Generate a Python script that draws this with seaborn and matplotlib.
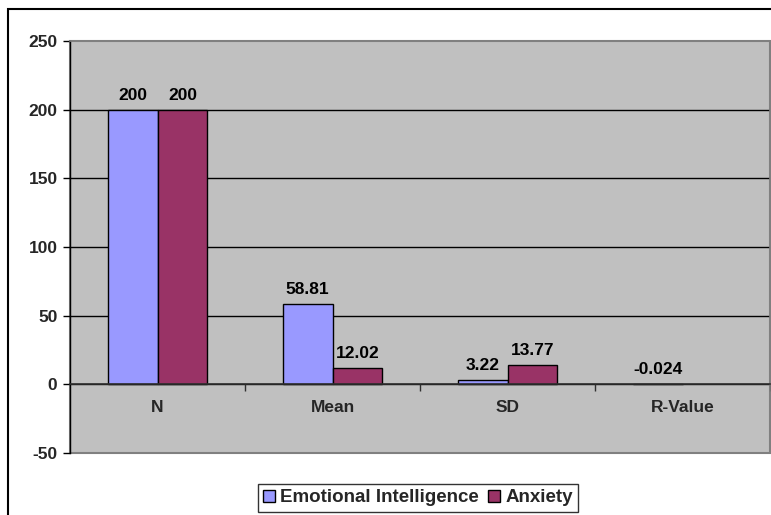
import matplotlib
matplotlib.use("Agg")
import matplotlib.pyplot as plt
import seaborn as sns
import pandas as pd
import numpy as np
from matplotlib.patches import Rectangle

categories = ["N", "Mean", "SD", "R-Value"]
emotional_intelligence = [200, 58.81, 3.22, -0.024]
anxiety = [200, 12.02, 13.77, np.nan]
series_names = ["Emotional Intelligence", "Anxiety"]
colors = ["#9999FF", "#993366"]
y_ticks = [-50, 0, 50, 100, 150, 200, 250]

sns.set_style("white")
plt.rcParams["font.family"] = ["Liberation Sans", "DejaVu Sans"]
plt.rcParams["font.weight"] = "bold"

df = pd.DataFrame({
    "Category": categories * 2,
    "Value": emotional_intelligence + anxiety,
    "Series": [series_names[0]] * 4 + [series_names[1]] * 4,
})

FS = 12.5
W, H = 771, 515
fig = plt.figure(figsize=(W / 100, H / 100), dpi=100)
ax = fig.add_axes([70 / W, (H - 453) / H, 700 / W, 412 / H])

sns.barplot(data=df, x="Category", y="Value", hue="Series", order=categories,
            hue_order=series_names, palette=colors, saturation=1, width=0.57,
            edgecolor="black", linewidth=1.0, ax=ax, legend=True)

ax.set_facecolor("#C0C0C0")
ax.patch.set_edgecolor("#808080")
ax.patch.set_linewidth(1.5)
ax.set_ylim(y_ticks[0], y_ticks[-1])
ax.set_xlim(-0.5, len(categories) - 0.5)
ax.set_yticks(y_ticks)
ax.set_yticklabels([str(t) for t in y_ticks], fontsize=FS, fontweight="bold")
for t in y_ticks[1:-1]:
    ax.axhline(t, color="black", linewidth=1.0, zorder=0.5)

for s in ["top", "right"]:
    ax.spines[s].set_color("#808080")
    ax.spines[s].set_linewidth(1.2)
ax.spines["left"].set_color("black")
ax.spines["left"].set_linewidth(1.0)
ax.spines["bottom"].set_position(("data", 0))
ax.spines["bottom"].set_color("#303030")
ax.spines["bottom"].set_linewidth(1.2)

ax.tick_params(axis="y", direction="out", length=5, width=1, color="black", pad=4, left=True)
ax.set_xticks(range(len(categories)))
ax.set_xticklabels(categories, fontsize=FS, fontweight="bold")
ax.tick_params(axis="x", which="major", length=0, pad=11)
ax.set_xticks(np.arange(0.5, len(categories), 1.0), minor=True)
ax.tick_params(axis="x", which="minor", length=5, width=1, color="#303030", bottom=True, direction="out")
ax.set_xlabel("")
ax.set_ylabel("")

# value labels
for cont in ax.containers:
    for p in cont:
        h = p.get_height()
        if np.isnan(h):
            continue
        ax.annotate(f"{h:g}", (p.get_x() + p.get_width() / 2, max(h, 0)),
                    xytext=(0, 5), textcoords="offset points", ha="center", va="bottom",
                    fontsize=FS, fontweight="bold", color="black")

handles, labels = ax.get_legend_handles_labels()
ax.get_legend().remove()
leg = fig.legend(handles, labels, loc="center", bbox_to_anchor=(418 / W, (H - 498) / H),
                 ncol=2, frameon=True, fancybox=False, edgecolor="black",
                 handlelength=0.6, handleheight=0.6, handletextpad=0.3, columnspacing=0.5,
                 borderpad=0.3, prop={"size": 13.5, "weight": "bold"})
leg.get_frame().set_linewidth(1.0)

fig.patches.append(Rectangle((8 / W, -0.05), 1.1, (H - 9) / H + 0.05, transform=fig.transFigure,
                             fill=False, edgecolor="black", linewidth=1.5, zorder=-1))

fig.savefig("out.png", dpi=100, facecolor="white")
